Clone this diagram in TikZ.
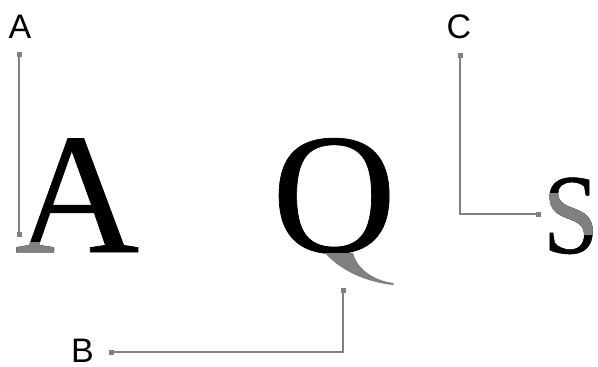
\documentclass[tikz,border=0pt]{standalone}
\usepackage{fontspec}
\setmainfont{Liberation Serif}
\newfontfamily\glyphfont[FakeBold=0.4]{Liberation Serif}
\newfontfamily\labelfont{Liberation Sans}
\definecolor{marker}{RGB}{128,128,128}
\tikzset{
  glyph/.style={inner sep=0pt, outer sep=0pt, anchor=base west, font=\glyphfont\fontsize{172}{172}\selectfont},
  small glyph/.style={glyph, xscale=0.88, transform shape, font=\glyphfont\fontsize{114}{114}\selectfont},
  tag/.style={inner sep=0pt, anchor=base, font=\labelfont\fontsize{34}{34}\selectfont},
  pin end/.style={fill=marker, inner sep=0pt, minimum size=5pt, outer sep=0pt},
  leader/.style={draw=marker, line width=1.5pt}
}
\begin{document}
\begin{tikzpicture}[x=1pt, y=-1pt]
\useasboundingbox (0,0) rectangle (598,367);

% letters in black (the Q is an O with its own tail)
\node[glyph] (letA) at (15,252) {A};
\node[glyph] (letQ) at (272,252) {O};
\node[small glyph] (letS) at (543,253) {S};

% highlighted parts in grey
\begin{scope}
  \clip (0,242) rectangle (60,270);
  \node[glyph, text=marker] at (15,252) {A};
\end{scope}
\fill[marker] (325,253) -- (353,253)
  .. controls (357,268) and (372,280) .. (393,283)
  .. controls (394,284) .. (393,285)
  .. controls (365,282) and (340,270) .. (325,253) -- cycle;
\begin{scope}
  \clip (538,193) -- (575,193) -- (600,215) -- (600,235) -- (570,235) -- (538,214) -- cycle;
  \node[small glyph, text=marker] at (543,253) {S};
\end{scope}

% labels
\node[tag] (tA) at (20,38) {A};
\node[tag] (tB) at (82.5,362) {B};
\node[tag] (tC) at (459,38) {C};

% leader lines with square ends
\node[pin end] (a1) at (19,54) {};
\node[pin end] (a2) at (19,234) {};
\node[pin end] (b1) at (343,290) {};
\node[pin end] (b2) at (111,352) {};
\node[pin end] (c1) at (460,55) {};
\node[pin end] (c2) at (538,214) {};

\draw[leader] (a1) -- (a2);
\draw[leader] (b1) |- (b2);
\draw[leader] (c1) |- (c2);
\end{tikzpicture}
\end{document}
